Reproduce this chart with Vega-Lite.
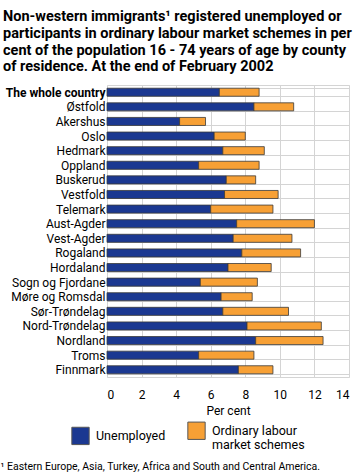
{
  "$schema": "https://vega.github.io/schema/vega-lite/v6.json",
  "width": 242,
  "height": 292,
  "padding": {"left": 0, "top": 9, "right": 4, "bottom": 0},
  "background": "white",
  "title": {
    "text": ["Non-western immigrants¹ registered unemployed or", "participants in ordinary labour market schemes in per", "cent of the population 16 - 74 years of age by county", "of residence. At the end of February 2002"],
    "anchor": "start",
    "frame": "bounds",
    "dx": 3,
    "font": "Roboto",
    "fontSize": 14.5,
    "fontWeight": "bold",
    "color": "#000000",
    "lineHeight": 16.7,
    "offset": 4
  },
  "data": {
    "values": [
      {"county": "The whole country", "Unemployed": 6.5, "Ordinary labour market schemes": 2.3},
      {"county": "Østfold", "Unemployed": 8.5, "Ordinary labour market schemes": 2.3},
      {"county": "Akershus", "Unemployed": 4.2, "Ordinary labour market schemes": 1.5},
      {"county": "Oslo", "Unemployed": 6.2, "Ordinary labour market schemes": 1.8},
      {"county": "Hedmark", "Unemployed": 6.7, "Ordinary labour market schemes": 2.4},
      {"county": "Oppland", "Unemployed": 5.3, "Ordinary labour market schemes": 3.5},
      {"county": "Buskerud", "Unemployed": 6.9, "Ordinary labour market schemes": 1.7},
      {"county": "Vestfold", "Unemployed": 6.8, "Ordinary labour market schemes": 3.1},
      {"county": "Telemark", "Unemployed": 6.0, "Ordinary labour market schemes": 3.6},
      {"county": "Aust-Agder", "Unemployed": 7.5, "Ordinary labour market schemes": 4.5},
      {"county": "Vest-Agder", "Unemployed": 7.3, "Ordinary labour market schemes": 3.4},
      {"county": "Rogaland", "Unemployed": 7.8, "Ordinary labour market schemes": 3.4},
      {"county": "Hordaland", "Unemployed": 7.0, "Ordinary labour market schemes": 2.5},
      {"county": "Sogn og Fjordane", "Unemployed": 5.4, "Ordinary labour market schemes": 3.3},
      {"county": "Møre og Romsdal", "Unemployed": 6.6, "Ordinary labour market schemes": 1.8},
      {"county": "Sør-Trøndelag", "Unemployed": 6.7, "Ordinary labour market schemes": 3.8},
      {"county": "Nord-Trøndelag", "Unemployed": 8.1, "Ordinary labour market schemes": 4.3},
      {"county": "Nordland", "Unemployed": 8.6, "Ordinary labour market schemes": 3.9},
      {"county": "Troms", "Unemployed": 5.3, "Ordinary labour market schemes": 3.2},
      {"county": "Finnmark", "Unemployed": 7.6, "Ordinary labour market schemes": 2.0}
    ]
  },
  "transform": [
    {"fold": ["Unemployed", "Ordinary labour market schemes"], "as": ["series", "value"]}
  ],
  "mark": {"type": "bar", "stroke": "#3a3a3a", "strokeWidth": 0.8},
  "encoding": {
    "y": {
      "field": "county",
      "type": "nominal",
      "sort": null,
      "scale": {"paddingInner": 0.45, "paddingOuter": 0.22},
      "axis": {
        "title": "¹ Eastern Europe, Asia, Turkey, Africa and South and Central America.",
        "titleAngle": 0,
        "titleX": -107,
        "titleY": 381,
        "titleAlign": "left",
        "titleBaseline": "middle",
        "titleFont": "Roboto",
        "titleFontSize": 10.5,
        "titleFontWeight": "normal",
        "titleColor": "#000000",
        "titleLimit": 400,
        "ticks": false,
        "domain": false,
        "grid": true,
        "tickBand": "extent",
        "gridColor": "#d4d4d4",
        "gridWidth": 1,
        "labelFont": "Roboto",
        "labelFontSize": 12,
        "labelColor": "#000000",
        "labelPadding": 2,
        "labelFontWeight": {"condition": {"test": "datum.value == 'The whole country'", "value": "bold"}, "value": "normal"}
      }
    },
    "x": {
      "field": "value",
      "type": "quantitative",
      "stack": "zero",
      "scale": {"domain": [0, 14], "nice": false},
      "axis": {
        "values": [0, 2, 4, 6, 8, 10, 12, 14],
        "title": "Per cent",
        "titleFont": "Roboto",
        "titleFontSize": 12,
        "titleFontWeight": "normal",
        "titleColor": "#000000",
        "titlePadding": 5,
        "labelFont": "Roboto",
        "labelFontSize": 12,
        "labelColor": "#000000",
        "labelPadding": 12,
        "ticks": false,
        "domain": false,
        "grid": true,
        "gridColor": "#d4d4d4",
        "gridWidth": 1
      }
    },
    "color": {
      "field": "series",
      "type": "nominal",
      "scale": {"domain": ["Unemployed", "Ordinary labour market schemes"], "range": ["#1b3891", "#f7a035"]},
      "legend": {
        "orient": "none",
        "legendX": -36,
        "legendY": 336,
        "direction": "horizontal",
        "columns": 2,
        "padding": 0,
        "title": null,
        "symbolType": "square",
        "symbolSize": 300,
        "symbolStrokeColor": "#555555",
        "symbolStrokeWidth": 1,
        "symbolOpacity": 1,
        "labelFont": "Roboto",
        "labelFontSize": 12.5,
        "labelColor": "#000000",
        "labelOffset": 6,
        "columnPadding": 19,
        "labelLimit": 200,
        "labelExpr": "datum.label == 'Ordinary labour market schemes' ? ['Ordinary labour', 'market schemes'] : datum.label"
      }
    },
    "order": {"field": "series", "sort": "descending"}
  },
  "config": {
    "view": {"stroke": "#d4d4d4", "strokeWidth": 1}
  }
}
